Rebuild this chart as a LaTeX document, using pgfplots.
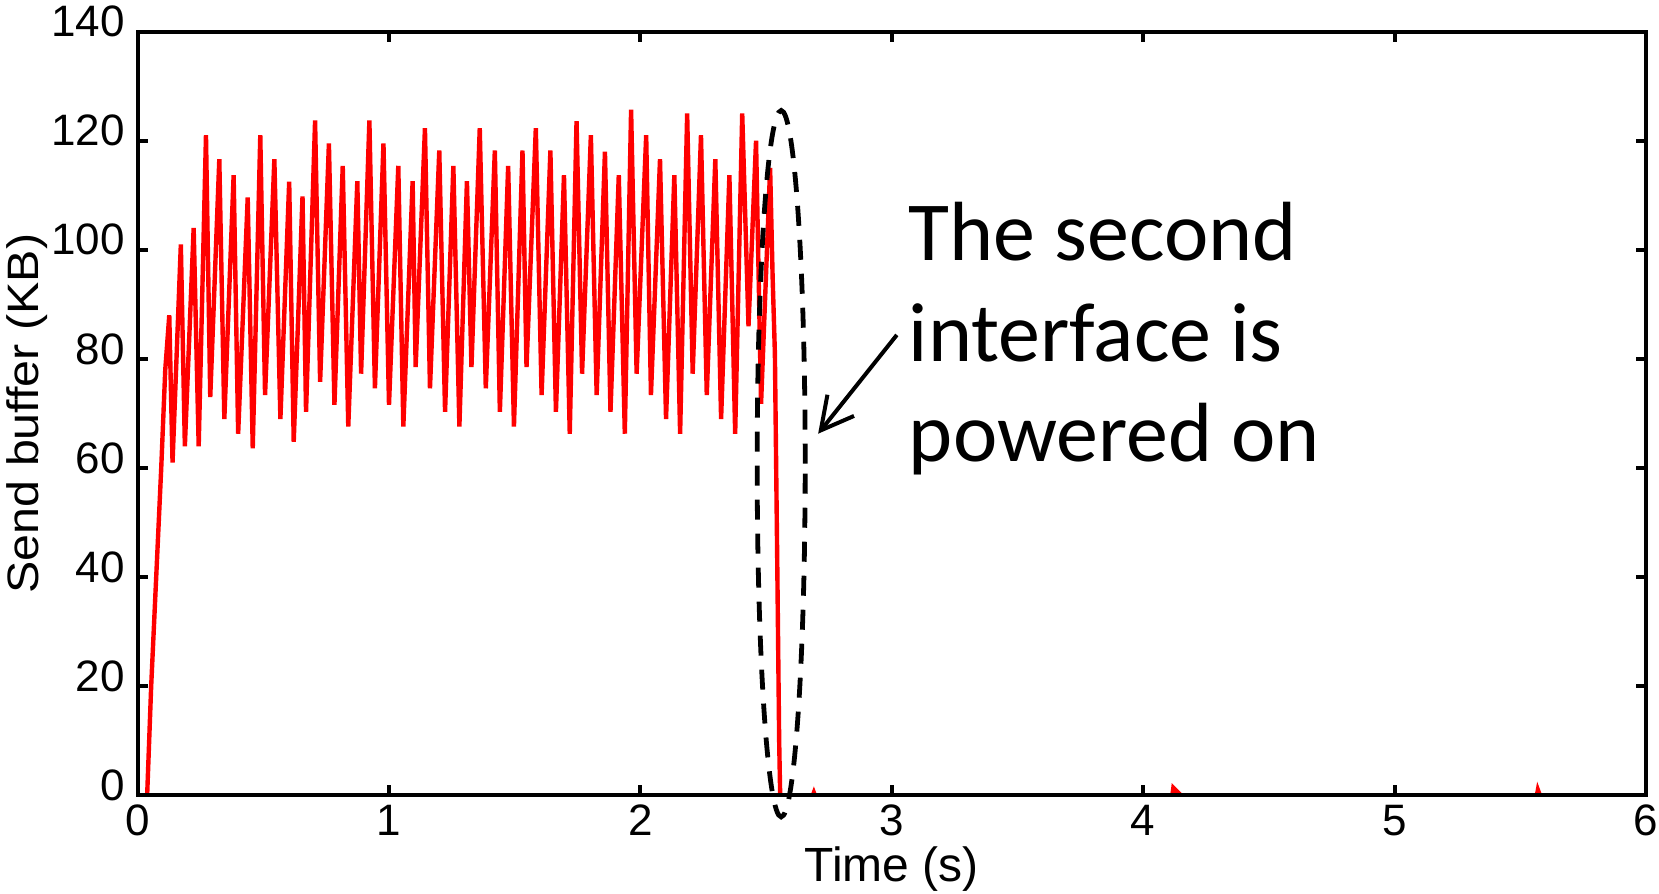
\documentclass[border=0pt]{standalone}
\usepackage{pgfplots}
\pgfplotsset{compat=1.18}
\usepackage{graphicx}
\usepackage{fontspec}
\setmainfont{Liberation Sans}
\newfontfamily\calibri{Carlito}
\usetikzlibrary{arrows.meta}

\begin{document}
\begin{tikzpicture}
% page = 1659x894 px at 0.25pt per px
\path[use as bounding box] (-34.4pt,-24.6pt) rectangle (380.35pt,198.85pt);
\begin{axis}[
  scale only axis,
  width=377.1pt, height=190.95pt,
  xmin=0, xmax=6, ymin=0, ymax=140,
  xtick={0,1,2,3,4,5,6},
  ytick={0,20,40,60,80,100,120,140},
  tick align=inside,
  xtick pos=both, ytick pos=both,
  major tick length=2.5pt,
  axis line style={line width=1pt},
  every tick/.style={black, line width=1pt},
  tick label style={font=\fontsize{11}{13}\selectfont, inner sep=0pt},
  /pgf/number format/assume math mode=true,
  xticklabel style={yshift=-2.2pt},
  yticklabel style={xshift=-3pt, yshift=2.5pt},
  xlabel={Time (s)},
  ylabel={\scalebox{1.1}[1]{Send buffer (KB)}},
  label style={font=\fontsize{11}{13}\selectfont},
  xlabel style={font=\fontsize{12}{14}\selectfont, at={(axis description cs:0.5,0)}, anchor=north, inner sep=0pt, yshift=-12.6pt},
  ylabel style={at={(axis description cs:-0.0655,0.5)}, anchor=base, inner sep=0pt},
  axis on top,
  clip=false,
  unbounded coords=jump,
]
\addplot[red, line width=1.1pt, mark=none] coordinates {
  (0.038,0)(0.054,20)(0.074,40)(0.094,60)(0.110,78)(0.126,88)
  (0.139,61)(0.172,101)(0.188,64)(0.223,104)(0.243,64)(0.272,121)
  (0.289,73)(0.325,116.6)(0.345,69)(0.382,113.7)(0.400,66.3)(0.438,109.6)
  (0.458,63.6)(0.488,121)(0.507,73.4)(0.544,116.6)(0.568,69)(0.603,112.5)
  (0.621,64.8)(0.656,109.8)(0.670,70.3)(0.706,123.7)(0.726,75.8)(0.761,119.5)
  (0.783,71.6)(0.816,115.4)(0.838,67.6)(0.874,112.6)(0.889,77.3)(0.922,123.7)
  (0.944,74.6)(0.978,119.5)(1.000,71.6)(1.037,115.4)(1.057,67.6)(1.094,112.6)
  (1.106,78.5)(1.143,122.3)(1.163,74.6)(1.200,118.2)(1.223,70.3)(1.256,115.4)
  (1.280,67.6)(1.310,112.6)(1.328,78.5)(1.361,122.3)(1.385,74.6)(1.421,118.2)
  (1.441,70.3)(1.474,115.4)(1.497,67.6)(1.531,118.2)(1.547,78.5)(1.584,122.3)
  (1.607,73.4)(1.642,118.2)(1.664,70.3)(1.696,113.7)(1.719,66.3)(1.746,123.6)
  (1.768,77.3)(1.803,121)(1.826,73.4)(1.859,118)(1.881,70.3)(1.914,113.7)
  (1.938,66.3)(1.963,125.7)(1.985,77.3)(2.023,121)(2.042,73.4)(2.078,116.6)
  (2.102,69)(2.135,113.7)(2.158,66.3)(2.186,125)(2.208,77.3)(2.241,121)
  (2.264,73.4)(2.298,116.6)(2.321,69)(2.354,113.7)(2.377,66.3)(2.405,125)
  (2.430,86)(2.460,120)(2.480,71.8)(2.516,115)(2.526,95)(2.535,81)
  (2.545,40)(2.552,10)(2.556,0)
  (2.600,nan)
  (2.686,0)(2.690,0.5)(2.694,0)
  (3.000,nan)
  (4.116,0)(4.120,1.4)(4.150,0)
  (5.000,nan)
  (5.566,0)(5.570,1.0)(5.578,0)
};
% annotation
\draw[line width=1.2pt, dash pattern=on 5pt off 3.5pt]
  (axis cs:2.56,60.8) ellipse [x radius=6pt, y radius=88.3pt];
\draw[line width=1pt, -{Straight Barb[length=8pt,width=8.5pt]}]
  (axis cs:3.02,84.4) -- (axis cs:2.707,66.3);
\node[anchor=base west, inner sep=0pt, font=\calibri\fontsize{21}{26}\selectfont]
  at (axis cs:3.065,98.0) {The second};
\node[anchor=base west, inner sep=0pt, font=\calibri\fontsize{21}{26}\selectfont]
  at (axis cs:3.065,79.5) {interface is};
\node[anchor=base west, inner sep=0pt, font=\calibri\fontsize{21}{26}\selectfont]
  at (axis cs:3.065,61.2) {powered on};
\end{axis}
\end{tikzpicture}
\end{document}
